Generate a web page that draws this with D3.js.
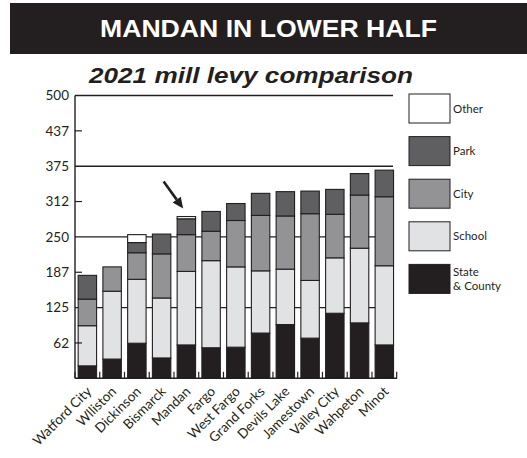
<!DOCTYPE html>
<html>
<head>
<meta charset="utf-8">
<script src="https://cdn.jsdelivr.net/npm/d3@7"></script>
<style>
  html, body { margin: 0; padding: 0; background: #ffffff; }
  svg { display: block; }
</style>
</head>
<body>
<svg id="chart" width="527" height="458"></svg>
<script>
// 2021 mill levies by city, stacked from the bottom up
const cities = ["Watford City", "Wlliston", "Dickinson", "Bismarck", "Mandan", "Fargo",
  "West Fargo", "Grand Forks", "Devils Lake", "Jamestown", "Valley City", "Wahpeton", "Minot"];
const stateCounty = [22, 34, 62, 36, 59, 54, 55, 80, 95, 71, 115, 98, 59];
const school      = [71, 120, 113, 106, 130, 154, 142, 110, 98, 102, 98, 132, 140];
const city        = [47, 43, 47, 78, 65, 52, 82, 98, 94, 118, 77, 94, 122];
const park        = [42, 0, 18, 35, 28, 35, 30, 39, 43, 40, 44, 38, 47];
const other       = [0, 0, 14, 0, 4, 0, 0, 0, 0, 0, 0, 0, 0];

const seriesKeys = ["State & County", "School", "City", "Park", "Other"];
const seriesValues = [stateCounty, school, city, park, other];
const tickValues = [62.5, 125, 187.5, 250, 312.5, 375, 437.5, 500];
const tickLabels = ["62", "125", "187", "250", "312", "375", "437", "500"];
const gridValues = [125, 250, 375, 500];
const highlight = "Mandan";

const colors = {
  "State & County": "#231f20",
  "School": "#e1e2e4",
  "City": "#939396",
  "Park": "#5f5f62",
  "Other": "#ffffff"
};
const ink = "#231f20";
const labelFont = "Lato, 'Open Sans', sans-serif";

const svg = d3.select("#chart");

// Banner headline
svg.append("rect").attr("x", 10).attr("y", 3).attr("width", 517).attr("height", 51).attr("fill", ink);
svg.append("text").attr("x", 268.5).attr("y", 36.5)
  .attr("text-anchor", "middle")
  .attr("font-family", "'Liberation Sans', Arial, sans-serif")
  .attr("font-weight", "bold").attr("font-size", 24)
  .attr("textLength", 337).attr("lengthAdjust", "spacingAndGlyphs")
  .attr("fill", "#ffffff")
  .text("MANDAN IN LOWER HALF");

svg.append("text").attr("x", 251).attr("y", 82.7)
  .attr("text-anchor", "middle")
  .attr("font-family", "'Liberation Sans', Arial, sans-serif")
  .attr("font-weight", "bold").attr("font-style", "italic").attr("font-size", 22.5)
  .attr("textLength", 324).attr("lengthAdjust", "spacingAndGlyphs")
  .attr("fill", ink)
  .text("2021 mill levy comparison");

// Scales
const x = d3.scaleBand().domain(cities).range([75, 396.7])
  .paddingInner(0.255).paddingOuter(0.1275);
const y = d3.scaleLinear().domain([0, 500]).range([378.3, 95.5]);

// Stack table built from the series arrays
const table = cities.map((c, i) => {
  const row = { city: c };
  seriesKeys.forEach((k, j) => { row[k] = seriesValues[j][i]; });
  return row;
});
const stacked = d3.stack().keys(seriesKeys)(table);

// Horizontal rules
svg.append("g").selectAll("line").data(gridValues).join("line")
  .attr("x1", 75).attr("x2", 393)
  .attr("y1", d => y(d)).attr("y2", d => y(d))
  .attr("stroke", ink).attr("stroke-width", 1.4);

// Bars
svg.append("g").selectAll("g").data(stacked).join("g")
  .attr("fill", d => colors[d.key])
  .selectAll("rect").data(d => d.filter(s => s[1] - s[0] > 0)).join("rect")
  .attr("x", d => x(d.data.city))
  .attr("width", x.bandwidth())
  .attr("y", d => y(d[1]))
  .attr("height", d => y(d[0]) - y(d[1]))
  .attr("stroke", ink).attr("stroke-width", 1.1);

// Left axis: line, inward minor ticks, labels
const axisG = svg.append("g");
axisG.append("line").attr("x1", 75).attr("x2", 75)
  .attr("y1", y(500)).attr("y2", y(0))
  .attr("stroke", ink).attr("stroke-width", 1.4);
axisG.selectAll("line.tk").data(tickValues.filter(v => !gridValues.includes(v))).join("line")
  .attr("class", "tk")
  .attr("x1", 75).attr("x2", 82)
  .attr("y1", d => y(d)).attr("y2", d => y(d))
  .attr("stroke", ink).attr("stroke-width", 1.2);
axisG.selectAll("text").data(tickValues).join("text")
  .attr("x", 69).attr("y", d => y(d))
  .attr("dy", "0.35em")
  .attr("text-anchor", "end")
  .attr("font-family", labelFont).attr("font-size", 13.5)
  .attr("fill", ink)
  .text((d, i) => tickLabels[i]);

// Bottom axis: baseline, ticks at band boundaries, rotated labels
const bx = svg.append("g");
bx.append("line").attr("x1", 75).attr("x2", 397)
  .attr("y1", y(0)).attr("y2", y(0))
  .attr("stroke", ink).attr("stroke-width", 1.6);
const bounds = d3.range(cities.length + 1).map(i => x.range()[0] + i * x.step());
bx.selectAll("line.tk").data(bounds).join("line")
  .attr("class", "tk")
  .attr("x1", d => d).attr("x2", d => d)
  .attr("y1", y(0)).attr("y2", y(0) - 6.5)
  .attr("stroke", ink).attr("stroke-width", 1.2);
bx.selectAll("text").data(cities).join("text")
  .attr("transform", d => `translate(${x(d) + x.bandwidth() / 2 + 5},${y(0) + 14}) rotate(-45)`)
  .attr("text-anchor", "end")
  .attr("font-family", labelFont).attr("font-size", 13.5)
  .attr("fill", ink)
  .text(d => d);

// Arrow pointing at the highlighted city
const hi = cities.indexOf(highlight);
const hiTotal = seriesValues.reduce((s, arr) => s + arr[hi], 0);
const tip = [x(highlight) + 6, y(hiTotal) - 8];
const tail = [tip[0] - 19.5, tip[1] - 27];
const ang = Math.atan2(tip[1] - tail[1], tip[0] - tail[0]);
const headLen = 11, headHalf = 5;
const base = [tip[0] - headLen * Math.cos(ang), tip[1] - headLen * Math.sin(ang)];
svg.append("line")
  .attr("x1", tail[0]).attr("y1", tail[1])
  .attr("x2", base[0]).attr("y2", base[1])
  .attr("stroke", ink).attr("stroke-width", 2.6);
svg.append("path")
  .attr("d", d3.line()([
    tip,
    [base[0] + headHalf * Math.sin(ang), base[1] - headHalf * Math.cos(ang)],
    [base[0] - headHalf * Math.sin(ang), base[1] + headHalf * Math.cos(ang)]
  ]) + "Z")
  .attr("fill", ink);

// Legend, top entry first
const legendKeys = seriesKeys.slice().reverse();
const lg = svg.append("g").selectAll("g").data(legendKeys).join("g")
  .attr("transform", (d, i) => `translate(409,${94 + i * 42.6})`);
lg.append("rect").attr("width", 41).attr("height", 29)
  .attr("fill", d => colors[d]).attr("stroke", ink).attr("stroke-width", 1);
lg.append("text")
  .attr("x", 44).attr("y", 14.5)
  .attr("font-family", labelFont).attr("font-size", 11.5)
  .attr("fill", ink)
  .each(function(d) {
    const parts = d === "State & County" ? ["State", "& County"] : [d];
    const t = d3.select(this);
    parts.forEach((p, k) => {
      t.append("tspan").attr("x", 44)
        .attr("dy", k === 0 ? (parts.length === 1 ? "0.35em" : "-0.25em") : "1.2em")
        .text(p);
    });
  });
</script>
</body>
</html>
